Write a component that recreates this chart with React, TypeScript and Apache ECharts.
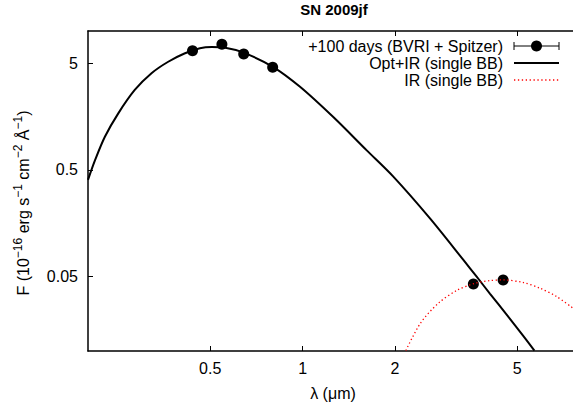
import React, { useEffect, useRef } from "react";
import * as echarts from "echarts";

// Observed photometry: +100 days (BVRI + Spitzer)
const obsLambda = [0.438, 0.546, 0.643, 0.799, 3.6, 4.5];
const obsFlux = [6.54, 7.5, 6.09, 4.57, 0.0425, 0.0464];

// Opt+IR single blackbody curve
const optIrLambda = [0.2, 0.211, 0.227, 0.251, 0.284, 0.322, 0.365, 0.414, 0.463, 0.506, 0.56, 0.64, 0.8, 0.981, 1.259, 1.618, 1.975, 2.6, 3.34, 3.69, 4.08, 4.62, 5.24, 5.69];
const optIrFlux = [0.402, 0.618, 1.02, 1.69, 2.8, 4.02, 5.15, 6.18, 6.89, 7.08, 6.98, 6.3, 4.62, 3.0, 1.56, 0.76, 0.431, 0.175, 0.0714, 0.0497, 0.0344, 0.0219, 0.0138, 0.0101];

// IR single blackbody curve
const irLambda = [2.17, 2.42, 2.77, 3.18, 3.65, 4.08, 4.5, 5.24, 5.93, 6.72, 7.6];
const irFlux = [0.0101, 0.0182, 0.0281, 0.037, 0.0432, 0.0457, 0.0464, 0.0438, 0.0388, 0.0324, 0.0252];

const xTicks = [0.5, 1, 2, 5];
const yTicks = [5, 0.5, 0.05];
const xRange = [0.2, 7.6];
const yRange = [0.01, 10];

const L = Math.log10;
const fmt = (v: number) => String(Number(Math.pow(10, v).toPrecision(3)));
const FONT = "'Liberation Sans', Arial, Helvetica, sans-serif";

export default function App() {
  const ref = useRef<HTMLDivElement>(null);
  useEffect(() => {
    if (!ref.current) return;
    const chart = echarts.init(ref.current, null, { renderer: "svg" });
    const xt = xTicks.map(L);
    const yt = yTicks.map(L);
    const axisLine = { show: true, onZero: false, lineStyle: { color: "#000", width: 1.5 } };
    const pairs = (a: number[], b: number[]) => a.map((v, i) => [L(v), L(b[i])]);
    const lx1 = 514, lx2 = 559;
    chart.setOption({
      animation: false,
      backgroundColor: "#fff",
      textStyle: { fontFamily: FONT },
      grid: { left: 88, top: 31, width: 485, height: 320, containLabel: false, outerBoundsMode: "none" },
      xAxis: [
        {
          type: "value", min: L(xRange[0]), max: L(xRange[1]), position: "bottom",
          splitLine: { show: false }, axisLine,
          axisTick: { show: true, inside: true, length: 5, customValues: xt, lineStyle: { color: "#000", width: 1 } },
          axisLabel: { show: true, customValues: xt, formatter: fmt, fontSize: 16, color: "#000", margin: 9, fontFamily: FONT },
        },
        {
          type: "value", min: L(xRange[0]), max: L(xRange[1]), position: "top",
          splitLine: { show: false }, axisLine,
          axisTick: { show: true, inside: true, length: 5, customValues: xt, lineStyle: { color: "#000", width: 1 } },
          axisLabel: { show: false },
        },
      ],
      yAxis: {
        type: "value", min: L(yRange[0]), max: L(yRange[1]), position: "left",
        splitLine: { show: false }, axisLine,
        axisTick: { show: true, inside: true, length: 5, customValues: yt, lineStyle: { color: "#000", width: 1 } },
        axisLabel: { show: true, customValues: yt, formatter: fmt, fontSize: 16, color: "#000", margin: 10, fontFamily: FONT },
      },
      series: [
        {
          name: "Opt+IR (single BB)", type: "line", data: pairs(optIrLambda, optIrFlux),
          smooth: 0.3, showSymbol: false, symbol: "none", clip: true, z: 2,
          lineStyle: { color: "#000", width: 2 },
        },
        {
          name: "+100 days (BVRI + Spitzer)", type: "scatter", data: pairs(obsLambda, obsFlux),
          symbol: "circle", symbolSize: 11, itemStyle: { color: "#000", opacity: 1 }, z: 3,
        },
        {
          name: "IR (single BB)", type: "line", data: pairs(irLambda, irFlux),
          smooth: 0.3, showSymbol: false, symbol: "none", clip: true, z: 4,
          lineStyle: { color: "#ff0000", width: 1.3, type: [1.3, 2.6] },
        },
      ],
      graphic: [
        { type: "text", x: 334, y: 9, style: { text: "SN 2009jf", font: `bold 15px ${FONT}`, fill: "#000", align: "center", verticalAlign: "middle" } },
        { type: "text", x: 333, y: 393, style: { text: "λ (μm)", font: `16px ${FONT}`, fill: "#000", align: "center", verticalAlign: "middle" } },
        {
          type: "text", x: 23, y: 203, rotation: Math.PI / 2,
          style: {
            text: "{m|F (10}{s|−16}{m| erg s}{s|−1}{m| cm}{s|−2}{m| Å}{s|−1}{m|)}",
            align: "center", verticalAlign: "middle", fill: "#000",
            rich: {
              m: { fontSize: 16, fontFamily: FONT, lineHeight: 22, fill: "#000" },
              s: { fontSize: 12, fontFamily: FONT, lineHeight: 12, verticalAlign: "top", fill: "#000" },
            },
          },
        },
        // legend
        { type: "text", x: 503, y: 46, style: { text: "+100 days (BVRI + Spitzer)", font: `16px ${FONT}`, fill: "#000", align: "right", verticalAlign: "middle" } },
        { type: "line", shape: { x1: lx1, y1: 46, x2: lx2, y2: 46 }, style: { stroke: "#000", lineWidth: 1 } },
        { type: "line", shape: { x1: lx1, y1: 42, x2: lx1, y2: 50 }, style: { stroke: "#000", lineWidth: 1 } },
        { type: "line", shape: { x1: lx2, y1: 42, x2: lx2, y2: 50 }, style: { stroke: "#000", lineWidth: 1 } },
        { type: "circle", shape: { cx: (lx1 + lx2) / 2, cy: 46, r: 5.5 }, style: { fill: "#000" } },
        { type: "text", x: 503, y: 63, style: { text: "Opt+IR (single BB)", font: `16px ${FONT}`, fill: "#000", align: "right", verticalAlign: "middle" } },
        { type: "line", shape: { x1: lx1, y1: 63, x2: lx2, y2: 63 }, style: { stroke: "#000", lineWidth: 2 } },
        { type: "text", x: 503, y: 80, style: { text: "IR (single BB)", font: `16px ${FONT}`, fill: "#000", align: "right", verticalAlign: "middle" } },
        { type: "line", shape: { x1: lx1, y1: 80, x2: lx2, y2: 80 }, style: { stroke: "#ff0000", lineWidth: 1.3, lineDash: [1.3, 2.6] } },
      ],
    });
    return () => chart.dispose();
  }, []);
  return <div ref={ref} style={{ position: "absolute", left: 0, top: 0, width: 573, height: 410 }} />;
}
